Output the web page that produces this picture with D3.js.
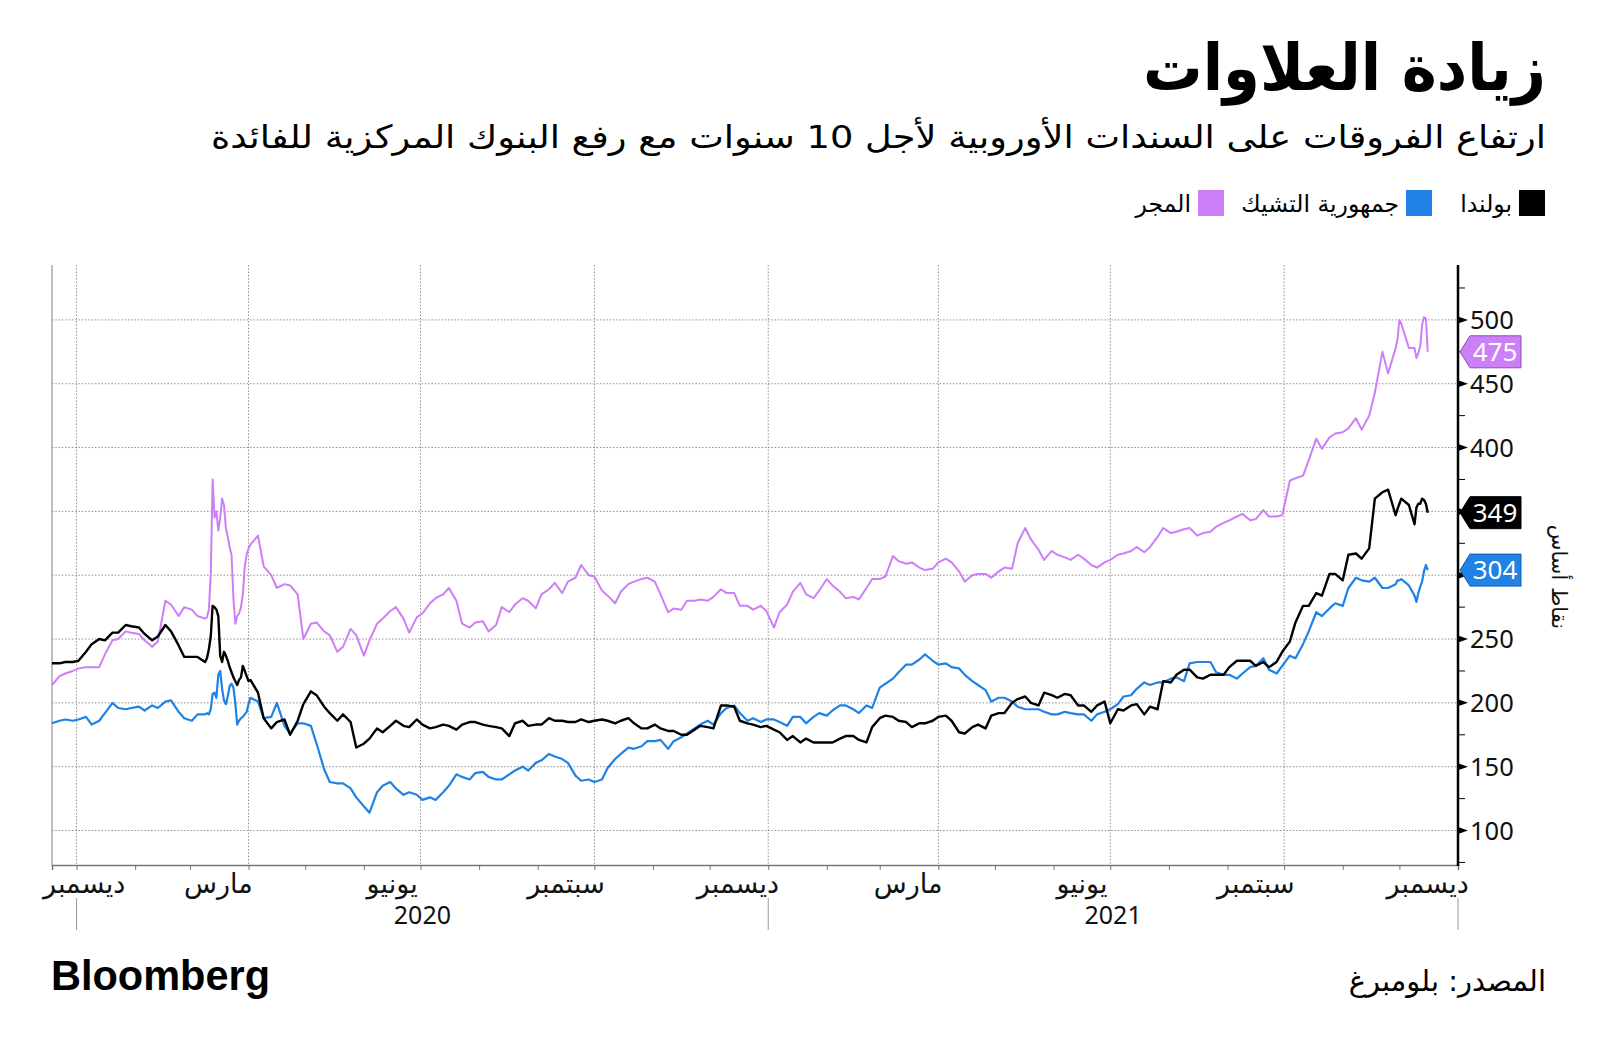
<!DOCTYPE html>
<html><head><meta charset="utf-8">
<script src="https://cdn.jsdelivr.net/npm/d3@7"></script>
<style>
html,body{margin:0;padding:0;background:#fff;}
svg{display:block;}
</style></head>
<body>
<svg id="chart" width="1600" height="1057"></svg>
<script>
// ---------------- DATA ----------------
const titleText = "زيادة العلاوات";
const subtitleText = "ارتفاع الفروقات على السندات الأوروبية لأجل 10 سنوات مع رفع البنوك المركزية للفائدة";
const sourceText = "المصدر: بلومبرغ";
const logoText = "Bloomberg";
const yAxisTitle = "نقاط أساس";
const seriesNames = ["بولندا", "جمهورية التشيك", "المجر"];
const seriesColors = ["#000000", "#1f82e4", "#cc7ff6"];
const seriesStrokes = ["#000000", "#0f5fae", "#8d4db8"];
const yTickValues = [100, 150, 200, 250, 300, 350, 400, 450, 500];
const yMinorValues = [75, 125, 175, 225, 275, 325, 375, 425, 475, 525];
const quarterTicks = ["2020-01-01","2020-04-01","2020-07-01","2020-10-01","2021-01-01","2021-04-01","2021-07-01","2021-10-01","2022-01-01"];
const monthLabels = ["ديسمبر","مارس","يونيو","سبتمبر","ديسمبر","مارس","يونيو","سبتمبر","ديسمبر"];
const monthLabelDates = ["2019-12-16","2020-03-16","2020-06-16","2020-09-16","2020-12-16","2021-03-16","2021-06-16","2021-09-16","2021-12-16"];
const yearLabels = ["2020", "2021"];
const yearBounds = ["2020-01-01", "2021-01-01", "2022-01-01"];
const xDomain = ["2019-12-19", "2022-01-01"];
const yDomain = [73, 543];

const dates = [
 // Dec 2019 - early Mar 2020
 "2019-12-19","2019-12-23","2019-12-26","2019-12-30","2020-01-02","2020-01-06","2020-01-09","2020-01-13","2020-01-16","2020-01-20","2020-01-23","2020-01-27","2020-01-30","2020-02-03","2020-02-06","2020-02-10","2020-02-13","2020-02-17","2020-02-20","2020-02-24","2020-02-27","2020-03-02","2020-03-05","2020-03-09",
 // Mar 2020 daily
 "2020-03-10","2020-03-11","2020-03-12","2020-03-13","2020-03-14","2020-03-15","2020-03-16","2020-03-17","2020-03-18","2020-03-19","2020-03-20","2020-03-21","2020-03-22","2020-03-23","2020-03-24","2020-03-25","2020-03-26","2020-03-27","2020-03-28","2020-03-29","2020-03-30","2020-03-31","2020-04-01",
 // Apr - Sep 2020
 "2020-04-02","2020-04-06","2020-04-09","2020-04-13","2020-04-16","2020-04-20","2020-04-23","2020-04-27","2020-04-30","2020-05-04","2020-05-07","2020-05-11","2020-05-14","2020-05-18","2020-05-21","2020-05-25","2020-05-28","2020-06-01","2020-06-04","2020-06-08","2020-06-11","2020-06-15","2020-06-18","2020-06-22","2020-06-25","2020-06-29","2020-07-02","2020-07-06","2020-07-09","2020-07-13","2020-07-16","2020-07-20","2020-07-23","2020-07-27","2020-07-30","2020-08-03","2020-08-06","2020-08-10","2020-08-13","2020-08-17","2020-08-20","2020-08-24","2020-08-27","2020-08-31","2020-09-03",
 // Sep 2020 - May 2021
 "2020-09-07","2020-09-10","2020-09-14","2020-09-17","2020-09-21","2020-09-24","2020-09-28","2020-10-01","2020-10-05","2020-10-08","2020-10-12","2020-10-15","2020-10-19","2020-10-22","2020-10-26","2020-10-29","2020-11-02","2020-11-05","2020-11-09","2020-11-12","2020-11-16","2020-11-19","2020-11-23","2020-11-26","2020-11-30","2020-12-03","2020-12-07","2020-12-10","2020-12-14","2020-12-17","2020-12-21","2020-12-24","2020-12-28","2020-12-31","2021-01-04","2021-01-07","2021-01-11","2021-01-14","2021-01-18","2021-01-21","2021-01-25","2021-01-28","2021-02-01","2021-02-04","2021-02-08","2021-02-11","2021-02-15","2021-02-18","2021-02-22","2021-02-25","2021-03-01","2021-03-04","2021-03-08","2021-03-11","2021-03-15","2021-03-18","2021-03-22","2021-03-25","2021-03-29","2021-04-01","2021-04-05","2021-04-08","2021-04-12","2021-04-15","2021-04-19","2021-04-22","2021-04-26","2021-04-29","2021-05-03","2021-05-06","2021-05-10","2021-05-13","2021-05-17","2021-05-20","2021-05-24","2021-05-27",
 // Jun - Dec 2021
 "2021-05-31","2021-06-03","2021-06-07","2021-06-10","2021-06-14","2021-06-17","2021-06-21","2021-06-24","2021-06-28","2021-07-01","2021-07-05","2021-07-08","2021-07-12","2021-07-15","2021-07-19","2021-07-22","2021-07-26","2021-07-29","2021-08-02","2021-08-05","2021-08-09","2021-08-12","2021-08-16","2021-08-19","2021-08-23","2021-08-26","2021-08-30","2021-09-02","2021-09-06","2021-09-09","2021-09-13","2021-09-16","2021-09-20","2021-09-23","2021-09-27","2021-09-30","2021-10-04","2021-10-07","2021-10-11","2021-10-14","2021-10-18","2021-10-21","2021-10-25","2021-10-28","2021-11-01","2021-11-04","2021-11-08","2021-11-11","2021-11-15","2021-11-18","2021-11-22","2021-11-25","2021-11-29","2021-11-30","2021-12-01","2021-12-02","2021-12-06","2021-12-09","2021-12-10","2021-12-11","2021-12-12","2021-12-13","2021-12-14","2021-12-15","2021-12-16"
];

const poland = [
 231,231,232,232,233,240,246,250,249,255,255,261,260,259,254,249,252,261,256,245,236,236,236,232,
 235,242,252,276,275,273,268,237,232,240,237,233,228,224,220,217,214,218,220,229,225,221,217,
 218,208,188,180,185,187,175,186,199,209,206,197,192,186,191,185,165,168,172,180,177,182,186,182,181,187,183,180,181,183,182,179,183,185,185,183,182,181,180,174,184,186,182,183,183,
 188,186,186,185,185,187,185,186,187,186,184,186,188,184,180,180,183,180,178,178,175,175,179,182,181,180,198,198,197,186,184,183,181,182,179,177,171,174,169,172,169,169,169,169,172,174,174,171,169,181,188,190,189,186,185,181,184,184,186,189,190,186,177,176,181,183,180,190,192,192,200,203,205,200,198,208,
 206,204,207,206,198,198,193,198,201,184,195,194,198,199,191,197,195,217,216,222,226,226,220,219,222,222,222,228,233,233,
 233,229,232,228,232,240,248,263,276,276,286,284,301,301,296,316,317,313,321,360,365,367,347,352,356,360,355,340,353,356,356,360,359,356,349
];

const czech = [
 184,186,187,186,187,189,183,186,192,200,196,195,196,197,194,198,196,201,202,193,188,186,191,191,
 192,191,195,207,208,204,222,225,211,202,199,205,213,215,212,200,183,186,188,189,191,193,199,
 204,201,188,189,200,182,176,184,184,182,168,148,138,137,137,133,126,119,114,130,135,138,133,128,130,128,124,126,124,130,135,144,142,140,145,146,142,140,140,144,147,150,147,153,155,
 160,158,156,153,143,139,140,138,140,149,156,160,165,164,166,170,170,171,164,170,173,176,180,183,186,183,192,196,198,192,186,188,185,187,187,185,182,189,189,184,189,192,190,194,198,198,195,192,198,196,212,215,219,224,230,230,234,238,233,230,231,228,227,222,217,214,210,201,204,204,201,197,195,195,195,193,
 191,191,193,192,191,191,186,191,193,195,199,205,206,211,216,214,216,216,219,220,217,231,232,232,232,224,222,222,219,223,
 228,229,235,226,223,229,237,235,246,256,271,268,274,278,276,290,298,296,295,298,290,290,293,296,296,297,292,284,279,286,291,295,303,308,304
];

const hungary = [
 214,221,223,225,227,228,228,228,238,249,250,256,255,254,249,244,248,280,277,268,275,273,268,266,
 267,273,300,375,345,350,335,345,360,355,337,330,322,316,282,262,268,270,275,285,307,316,321,
 324,331,307,300,290,293,292,285,250,262,263,256,253,240,244,258,253,237,249,262,266,272,275,266,255,267,270,278,282,285,290,280,262,259,263,264,256,261,275,271,277,282,280,274,285,
 289,294,286,295,298,308,300,299,288,284,278,287,293,295,297,298,295,285,271,274,273,280,280,281,280,283,289,286,286,276,276,273,276,272,259,271,277,287,294,285,282,288,297,292,287,282,283,281,290,297,297,299,315,311,309,310,306,304,305,310,313,310,303,295,300,301,301,298,303,306,305,325,337,328,320,312,
 319,316,314,312,316,313,308,306,310,312,316,317,319,322,318,322,330,337,333,334,336,337,331,333,334,338,341,343,346,348,
 343,344,351,346,346,347,374,376,378,390,407,399,408,411,412,415,423,414,425,443,475,458,478,485,500,497,478,478,470,474,479,496,502,501,475
];

[poland, czech, hungary].forEach((s, i) => {
  if (s.length !== dates.length) throw new Error("series " + i + " length " + s.length + " != " + dates.length);
});

// ---------------- LAYOUT ----------------
const W = 1600, H = 1057;
const plot = { left: 52, right: 1458, top: 265, bottom: 865 };
const arabicFont = "'DejaVu Sans', sans-serif";
const numFont = "'Noto Sans', 'Open Sans', sans-serif";

const parse = d3.utcParse("%Y-%m-%d");
const svg = d3.select("#chart");
svg.append("rect").attr("width", W).attr("height", H).attr("fill", "#fff");

const x = d3.scaleUtc().domain(xDomain.map(parse)).range([plot.left, plot.right]);
const y = d3.scaleLinear().domain(yDomain).range([plot.bottom, plot.top]);

const seriesData = [poland, czech, hungary];
const lastValues = seriesData.map(s => s[s.length - 1]);

// Title & subtitle
svg.append("text").attr("x", 1546).attr("y", 90)
  .attr("text-anchor", "end").attr("font-family", arabicFont).attr("font-weight", "bold")
  .attr("font-size", 64).attr("fill", "#000")
  .attr("textLength", 403).attr("lengthAdjust", "spacingAndGlyphs")
  .text(titleText);
svg.append("text").attr("x", 1546).attr("y", 148)
  .attr("text-anchor", "end").attr("font-family", arabicFont)
  .attr("font-size", 32).attr("fill", "#000")
  .attr("textLength", 1335).attr("lengthAdjust", "spacingAndGlyphs")
  .text(subtitleText);

// Legend
const legendSquareX = [1519, 1406, 1198];
const legend = svg.append("g");
seriesNames.forEach((name, i) => {
  legend.append("rect").attr("x", legendSquareX[i]).attr("y", 190).attr("width", 26).attr("height", 26)
    .attr("fill", seriesColors[i]);
  legend.append("text").attr("x", legendSquareX[i] - 7).attr("y", 212)
    .attr("text-anchor", "end").attr("font-family", arabicFont).attr("font-size", 23.5)
    .attr("fill", "#000").text(name);
});

// Gridlines
const dot = "1.5,1.8";
const grid = svg.append("g");
grid.selectAll("line.h").data(yTickValues).join("line")
  .attr("x1", plot.left).attr("x2", plot.right)
  .attr("y1", d => y(d)).attr("y2", d => y(d))
  .attr("stroke", "#8f8f8f").attr("stroke-width", 1).attr("stroke-dasharray", dot);
grid.selectAll("line.v").data(quarterTicks.slice(0, -1).map(parse)).join("line")
  .attr("x1", d => x(d)).attr("x2", d => x(d))
  .attr("y1", plot.top).attr("y2", plot.bottom)
  .attr("stroke", "#8f8f8f").attr("stroke-width", 1).attr("stroke-dasharray", dot);

// Left border
svg.append("line").attr("x1", plot.left).attr("x2", plot.left).attr("y1", plot.top).attr("y2", plot.bottom)
  .attr("stroke", "#a8a8a8").attr("stroke-width", 1.5);

// X axis
const xAxisG = svg.append("g").attr("transform", `translate(0,${plot.bottom})`);
const monthTicks = d3.utcMonth.range(parse("2020-01-01"), d3.utcDay.offset(parse("2022-01-01"), 1));
xAxisG.call(d3.axisBottom(x).tickValues(monthTicks).tickSize(5).tickFormat(""))
  .call(g => g.select(".domain").attr("stroke", "#777").attr("stroke-width", 1.5))
  .call(g => g.selectAll(".tick line").attr("stroke", "#777"));

// Month labels
const mlG = svg.append("g");
monthLabels.forEach((lab, i) => {
  const t = mlG.append("text").attr("y", 893).attr("text-anchor", "middle")
    .attr("font-family", arabicFont).attr("font-size", 27).attr("fill", "#111").text(lab);
  let cx = x(parse(monthLabelDates[i]));
  const w = t.node().getComputedTextLength();
  if (cx - w / 2 < 43) cx = 43 + w / 2;
  t.attr("x", cx);
});
// Year separators & labels
svg.append("g").selectAll("line").data(yearBounds.map(parse)).join("line")
  .attr("x1", d => x(d)).attr("x2", d => x(d)).attr("y1", 898).attr("y2", 930)
  .attr("stroke", "#9a9a9a").attr("stroke-width", 1);
yearLabels.forEach((lab, i) => {
  const a = parse(yearBounds[i]), b = parse(yearBounds[i + 1]);
  svg.append("text").attr("x", (x(a) + x(b)) / 2).attr("y", 924).attr("text-anchor", "middle")
    .attr("font-family", numFont).attr("font-size", 25).attr("fill", "#111").text(lab);
});

// Lines
const parsedDates = dates.map(parse);
const line = d3.line().x((d, i) => x(parsedDates[i])).y(d => y(d));
const lineWidths = [2.4, 2.2, 2.0];
[2, 1, 0].forEach(i => {
  svg.append("path").datum(seriesData[i]).attr("d", line)
    .attr("fill", "none").attr("stroke", seriesColors[i]).attr("stroke-width", lineWidths[i])
    .attr("stroke-linejoin", "round");
});

// Right axis
const ra = svg.append("g");
ra.append("line").attr("x1", plot.right).attr("x2", plot.right).attr("y1", plot.top).attr("y2", plot.bottom + 1)
  .attr("stroke", "#000").attr("stroke-width", 2.5);
ra.selectAll("line.minor").data(yMinorValues.filter(v => v >= yDomain[0] && v <= yDomain[1])).join("line")
  .attr("x1", plot.right).attr("x2", plot.right + 7).attr("y1", d => y(d)).attr("y2", d => y(d))
  .attr("stroke", "#000").attr("stroke-width", 1);
ra.selectAll("path.maj").data(yTickValues).join("path")
  .attr("d", d => `M${plot.right},${y(d) - 3.5}L${plot.right + 10},${y(d)}L${plot.right},${y(d) + 3.5}Z`)
  .attr("fill", "#000");
// tick labels hidden under a value tag are not drawn (as in the reference)
const visibleTicks = yTickValues.filter(t => lastValues.every(v => Math.abs(y(t) - y(v)) > 22));
ra.selectAll("text.tl").data(visibleTicks).join("text")
  .attr("x", plot.right + 12).attr("y", d => y(d)).attr("dy", "0.36em")
  .attr("font-family", numFont).attr("font-size", 25.5).attr("fill", "#111")
  .text(d => d);

// Value tags
seriesData.forEach((s, i) => {
  const v = lastValues[i];
  const yy = y(v);
  const g = svg.append("g");
  g.append("path")
    .attr("d", `M${plot.right + 2},${yy}L${plot.right + 12},${yy - 16}L${plot.right + 63},${yy - 16}L${plot.right + 63},${yy + 16}L${plot.right + 12},${yy + 16}Z`)
    .attr("fill", seriesColors[i]).attr("stroke", seriesStrokes[i]).attr("stroke-width", 1);
  g.append("text").attr("x", plot.right + 37).attr("y", yy).attr("dy", "0.36em")
    .attr("text-anchor", "middle").attr("font-family", numFont).attr("font-size", 26)
    .attr("fill", "#fff").text(v);
});

// Y axis title
svg.append("text").attr("transform", "translate(1559,577) rotate(90)")
  .attr("text-anchor", "middle").attr("dy", "0.35em").attr("font-family", arabicFont).attr("font-size", 21)
  .attr("fill", "#111").text(yAxisTitle);

// Footer
svg.append("text").attr("x", 51).attr("y", 990)
  .attr("font-family", "'Liberation Sans', Arial, sans-serif").attr("font-weight", "bold")
  .attr("font-size", 42).attr("fill", "#000")
  .attr("textLength", 219).attr("lengthAdjust", "spacingAndGlyphs").text(logoText);
svg.append("text").attr("x", 1546).attr("y", 991).attr("text-anchor", "end")
  .attr("font-family", arabicFont).attr("font-size", 29).attr("fill", "#000").text(sourceText);
</script>
</body></html>
